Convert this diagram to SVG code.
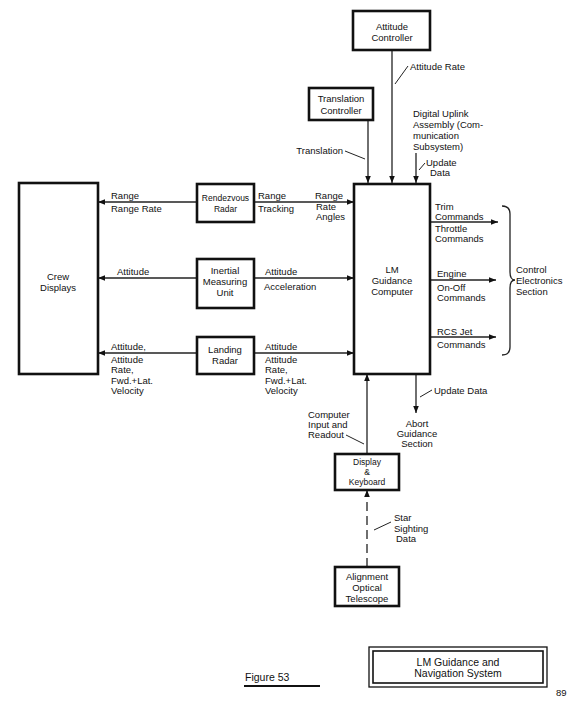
<svg xmlns="http://www.w3.org/2000/svg" width="577" height="708" viewBox="0 0 577 708">
<defs>
<marker id="ah" viewBox="0 0 10 10" refX="10" refY="5" markerWidth="9" markerHeight="7" markerUnits="userSpaceOnUse" orient="auto">
<path d="M0,1 L10,5 L0,9 z" fill="#111"/>
</marker>
</defs>
<style>
.box{fill:#fff;stroke:#111;stroke-width:2.6}
.ln{fill:none;stroke:#222;stroke-width:1.3}
.ld{fill:none;stroke:#222;stroke-width:1}
.dash{fill:none;stroke:#222;stroke-width:1.3;stroke-dasharray:9 5}
text{font-family:"Liberation Sans","DejaVu Sans",sans-serif;font-size:9.5px;fill:#111}
.c{text-anchor:middle}
.s{font-size:8.5px}
</style>
<rect width="577" height="708" fill="#fff"/>

<g id="connectors">
<line class="ln" x1="392" y1="50" x2="392" y2="183" marker-end="url(#ah)"/>
<line class="ln" x1="368" y1="120" x2="368" y2="183" marker-end="url(#ah)"/>
<line class="ln" x1="416" y1="153" x2="416" y2="183" marker-end="url(#ah)"/>
<line class="ln" x1="197" y1="202" x2="98" y2="202" marker-end="url(#ah)"/>
<line class="ln" x1="197" y1="278" x2="98" y2="278" marker-end="url(#ah)"/>
<line class="ln" x1="197" y1="353" x2="98" y2="353" marker-end="url(#ah)"/>
<line class="ln" x1="254" y1="202" x2="354" y2="202" marker-end="url(#ah)"/>
<line class="ln" x1="254" y1="278" x2="354" y2="278" marker-end="url(#ah)"/>
<line class="ln" x1="254" y1="353" x2="354" y2="353" marker-end="url(#ah)"/>
<line class="ln" x1="430" y1="222" x2="498" y2="222" marker-end="url(#ah)"/>
<line class="ln" x1="430" y1="280" x2="496" y2="280" marker-end="url(#ah)"/>
<line class="ln" x1="430" y1="337" x2="496" y2="337" marker-end="url(#ah)"/>
<line class="ln" x1="416" y1="374" x2="416" y2="413" marker-end="url(#ah)"/>
<line class="ln" x1="367" y1="454" x2="367" y2="374" marker-end="url(#ah)"/>
<line class="dash" x1="367" y1="567" x2="367" y2="490" marker-end="url(#ah)"/>
<path class="ln" d="M502 206 Q510 206 510 214 L510 272 Q510 280 515 280 Q510 280 510 288 L510 347 Q510 355 502 355"/>
<line class="ld" x1="395" y1="84" x2="408" y2="66"/>
<line class="ld" x1="345" y1="151" x2="365" y2="159"/>
<line class="ld" x1="419" y1="170" x2="425" y2="163"/>
<line class="ld" x1="420" y1="397" x2="432" y2="390"/>
<line class="ld" x1="346" y1="435" x2="364" y2="444"/>
<line class="ld" x1="374" y1="530" x2="391" y2="522"/>
</g>

<g id="attitude-controller">
<rect class="box" x="353" y="11" width="77" height="39"/>
<text class="c" x="392" y="30">Attitude</text>
<text class="c" x="392" y="41">Controller</text>
</g>
<g id="translation-controller">
<rect class="box" x="309" y="88" width="64" height="32"/>
<text class="c" x="341" y="102">Translation</text>
<text class="c" x="341" y="114">Controller</text>
</g>
<g id="lm-guidance-computer">
<rect class="box" x="354" y="184" width="76" height="190"/>
<text class="c" x="392" y="273">LM</text>
<text class="c" x="392" y="284">Guidance</text>
<text class="c" x="392" y="295">Computer</text>
</g>
<g id="crew-displays">
<rect class="box" x="19" y="183" width="79" height="191"/>
<text class="c" x="58" y="280">Crew</text>
<text class="c" x="58" y="291">Displays</text>
</g>
<g id="rendezvous-radar">
<rect class="box" x="197" y="184" width="57" height="38"/>
<text class="c s" x="225.5" y="201">Rendezvous</text>
<text class="c s" x="225.5" y="212">Radar</text>
</g>
<g id="inertial-measuring-unit">
<rect class="box" x="197" y="259" width="57" height="49"/>
<text class="c" x="225" y="274">Inertial</text>
<text class="c" x="225" y="285">Measuring</text>
<text class="c" x="225" y="296">Unit</text>
</g>
<g id="landing-radar">
<rect class="box" x="197" y="337" width="57" height="37"/>
<text class="c" x="225" y="353">Landing</text>
<text class="c" x="225" y="364">Radar</text>
</g>
<g id="display-keyboard">
<rect class="box" x="335" y="454" width="64" height="36"/>
<text class="c s" x="367" y="465">Display</text>
<text class="c s" x="367" y="475">&amp;</text>
<text class="c s" x="367" y="485">Keyboard</text>
</g>
<g id="alignment-optical-telescope">
<rect class="box" x="335" y="567" width="64" height="39"/>
<text class="c" x="367" y="580">Alignment</text>
<text class="c" x="367" y="591">Optical</text>
<text class="c" x="367" y="602">Telescope</text>
</g>

<g id="labels">
<text x="410" y="70">Attitude Rate</text>
<text x="413" y="117">Digital Uplink</text>
<text x="413" y="128">Assembly (Com-</text>
<text x="413" y="139">munication</text>
<text x="413" y="150">Subsystem)</text>
<text x="426" y="166">Update</text>
<text x="430" y="176">Data</text>
<text x="343" y="154" text-anchor="end">Translation</text>
<text x="111" y="199">Range</text>
<text x="111" y="212">Range Rate</text>
<text x="117" y="275">Attitude</text>
<text x="111" y="350">Attitude,</text>
<text x="111" y="363">Attitude</text>
<text x="111" y="373">Rate,</text>
<text x="111" y="384">Fwd.+Lat.</text>
<text x="111" y="394">Velocity</text>
<text x="258" y="199">Range</text>
<text x="258" y="212">Tracking</text>
<text x="315" y="199">Range</text>
<text x="316" y="210">Rate</text>
<text x="316" y="220">Angles</text>
<text x="265" y="275">Attitude</text>
<text x="264" y="290">Acceleration</text>
<text x="265" y="350">Attitude</text>
<text x="265" y="363">Attitude</text>
<text x="265" y="373">Rate,</text>
<text x="265" y="384">Fwd.+Lat.</text>
<text x="265" y="394">Velocity</text>
<text x="435" y="210">Trim</text>
<text x="435" y="220">Commands</text>
<text x="435" y="232">Throttle</text>
<text x="435" y="242">Commands</text>
<text x="437" y="277">Engine</text>
<text x="437" y="291">On-Off</text>
<text x="437" y="301">Commands</text>
<text x="437" y="335">RCS Jet</text>
<text x="437" y="348">Commands</text>
<text x="516" y="273">Control</text>
<text x="516" y="284">Electronics</text>
<text x="516" y="295">Section</text>
<text x="434" y="394">Update Data</text>
<text class="c" x="417" y="427">Abort</text>
<text class="c" x="417" y="437">Guidance</text>
<text class="c" x="417" y="447">Section</text>
<text x="308" y="418">Computer</text>
<text x="308" y="428">Input and</text>
<text x="308" y="438">Readout</text>
<text x="394" y="521">Star</text>
<text x="394" y="532">Sighting</text>
<text x="396" y="542">Data</text>
</g>

<g id="caption">
<text x="245" y="681" style="font-size:10.5px">Figure 53</text>
<line x1="244" y1="686" x2="320" y2="686" stroke="#111" stroke-width="1.8"/>
<rect x="369" y="647" width="178" height="40" fill="none" stroke="#111" stroke-width="1.3"/>
<rect x="373" y="651" width="170" height="32" fill="none" stroke="#111" stroke-width="1.6"/>
<text class="c" x="458" y="666" style="font-size:10.5px">LM Guidance and</text>
<text class="c" x="458" y="677" style="font-size:10.5px">Navigation System</text>
<text x="556" y="696">89</text>
</g>
</svg>
